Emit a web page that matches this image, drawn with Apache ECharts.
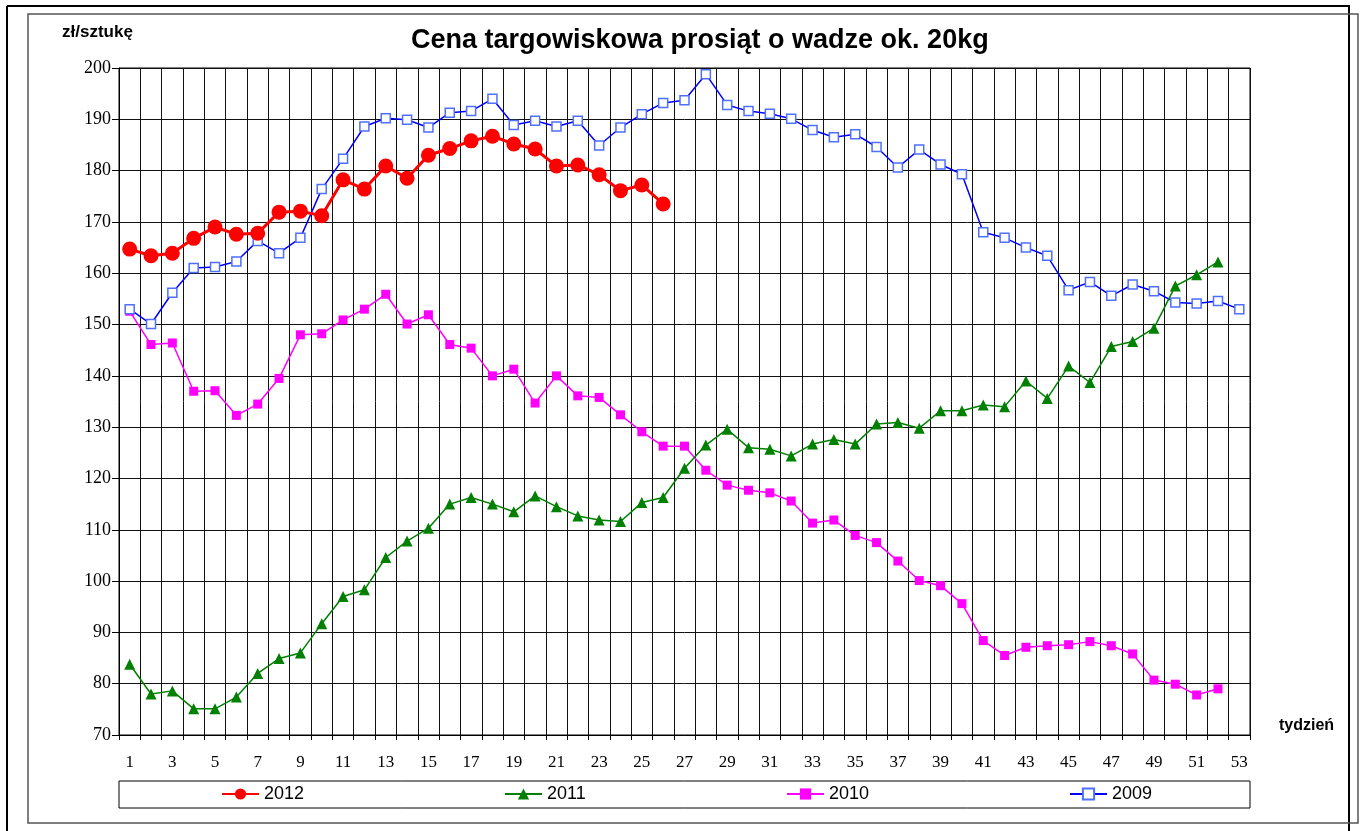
<!DOCTYPE html>
<html><head><meta charset="utf-8">
<script src="https://cdn.jsdelivr.net/npm/echarts@6/dist/echarts.min.js"></script>
<style>html,body{margin:0;padding:0;background:#fff}#c{width:1366px;height:831px}</style>
</head><body><div id="c"></div>
<script>
const weeks = Array.from({length:53},(_,i)=>String(i+1));
const s2012 = [164.7,163.4,163.9,166.8,169.0,167.6,167.8,171.9,172.1,171.2,178.2,176.4,180.9,178.5,183.0,184.3,185.8,186.7,185.2,184.2,180.9,181.1,179.2,176.1,177.2,173.5];
const s2011 = [83.8,78.0,78.6,75.1,75.1,77.4,82.0,84.9,86.0,91.7,97.0,98.3,104.6,107.8,110.3,115.0,116.3,115.0,113.5,116.6,114.5,112.7,111.9,111.6,115.3,116.3,122.0,126.5,129.6,126.0,125.7,124.4,126.7,127.6,126.7,130.6,130.9,129.8,133.2,133.2,134.3,134.0,139.0,135.6,141.9,138.7,145.7,146.7,149.3,157.5,159.7,162.2];
const s2010 = [152.6,146.1,146.4,137.0,137.1,132.3,134.5,139.5,148.0,148.2,150.9,153.0,155.9,150.1,151.9,146.1,145.4,140.0,141.3,134.7,140.0,136.1,135.8,132.4,129.1,126.3,126.3,121.6,118.7,117.7,117.2,115.6,111.3,111.9,108.9,107.5,103.9,100.1,99.1,95.6,88.4,85.5,87.1,87.4,87.6,88.2,87.4,85.8,80.7,79.9,77.8,79.0];
const s2009 = [153.0,150.1,156.2,161.0,161.2,162.3,166.3,163.9,166.9,176.4,182.3,188.6,190.2,189.9,188.4,191.3,191.6,194.0,188.9,189.7,188.6,189.7,184.9,188.4,191.0,193.2,193.7,198.8,192.8,191.6,191.1,190.1,187.9,186.5,187.1,184.6,180.6,184.1,181.2,179.3,168.0,166.9,165.0,163.4,156.7,158.3,155.6,157.8,156.5,154.3,154.1,154.6,153.0];
const seriesNames = ['2012','2011','2010','2009'];
const titleText = 'Cena targowiskowa prosiąt o wadze ok. 20kg';
const yName = 'zł/sztukę';
const xName = 'tydzień';

const chart = echarts.init(document.getElementById('c'));
const legendLeft = [221, 504, 786, 1069];
const legends = seriesNames.map((n,i)=>({
  data:[n], left: legendLeft[i], top: 785, padding:0, itemWidth:37, itemHeight:14, itemGap:0,
  textStyle:{fontFamily:'Liberation Sans, Arial, sans-serif', fontSize:18, color:'#000', padding:[0,0,0,0]}
}));
chart.setOption({
  animation:false,
  backgroundColor:'#fff',
  title:{text:titleText, left:406, top:22, textStyle:{fontFamily:'Liberation Sans, Arial, sans-serif', fontWeight:'bold', fontSize:27, color:'#000'}},
  legend: legends,
  graphic:[
    {type:'line', shape:{x1:7,y1:6,x2:7,y2:831}, style:{stroke:'#000', lineWidth:2}},
    {type:'line', shape:{x1:7,y1:6,x2:1350,y2:6}, style:{stroke:'#000', lineWidth:2}},
    {type:'line', shape:{x1:1349,y1:6,x2:1349,y2:831}, style:{stroke:'#000', lineWidth:2}},
    {type:'rect', shape:{x:28,y:14,width:1330,height:809}, style:{fill:null, stroke:'#555', lineWidth:1.5}},
    {type:'rect', shape:{x:119,y:781,width:1131,height:27}, style:{fill:null, stroke:'#000', lineWidth:1}},
    {type:'text', left:62, top:24, style:{text:yName, font:'bold 17px "Liberation Sans", Arial, sans-serif', fill:'#000'}},
    {type:'text', left:1279, top:718, style:{text:xName, font:'bold 16px "Liberation Sans", Arial, sans-serif', fill:'#000'}}
  ],
  grid:{left:119, right:116, top:68, bottom:96, show:true, borderColor:'#000', borderWidth:1},
  xAxis:{type:'category', data:weeks, boundaryGap:true,
    axisLine:{lineStyle:{color:'#000'}},
    axisTick:{show:true, interval:0, length:5, lineStyle:{color:'#000'}},
    axisLabel:{interval:1, margin:19, color:'#000', fontFamily:'Liberation Serif, Times New Roman, serif', fontSize:17},
    splitLine:{show:true, interval:0, lineStyle:{color:'#111', width:1}}
  },
  yAxis:{type:'value', min:70, max:200, interval:10,
    axisLine:{show:true, lineStyle:{color:'#000'}},
    axisTick:{show:true, length:7, lineStyle:{color:'#000'}},
    axisLabel:{margin:8, color:'#000', fontFamily:'Liberation Serif, Times New Roman, serif', fontSize:18},
    splitLine:{show:true, lineStyle:{color:'#111', width:1}}
  },
  series:[
    {name:'2012', type:'line', data:s2012, z:5, symbol:'circle', symbolSize:15, showAllSymbol:true,
      lineStyle:{color:'#FF0000', width:3}, itemStyle:{color:'#FF0000'}},
    {name:'2011', type:'line', data:s2011, z:4, symbol:'triangle', symbolSize:11, showAllSymbol:true,
      lineStyle:{color:'#008000', width:1.5}, itemStyle:{color:'#008000'}},
    {name:'2010', type:'line', data:s2010, z:3, symbol:'rect', symbolSize:9, showAllSymbol:true,
      lineStyle:{color:'#FF00FF', width:1.5}, itemStyle:{color:'#FF00FF'}},
    {name:'2009', type:'line', data:s2009, z:3, symbol:'rect', symbolSize:9, showAllSymbol:true,
      lineStyle:{color:'#0000FF', width:1.5}, itemStyle:{color:'#FFFFFF', borderColor:'#4F6FFF', borderWidth:1.5}}
  ]
});
</script></body></html>
